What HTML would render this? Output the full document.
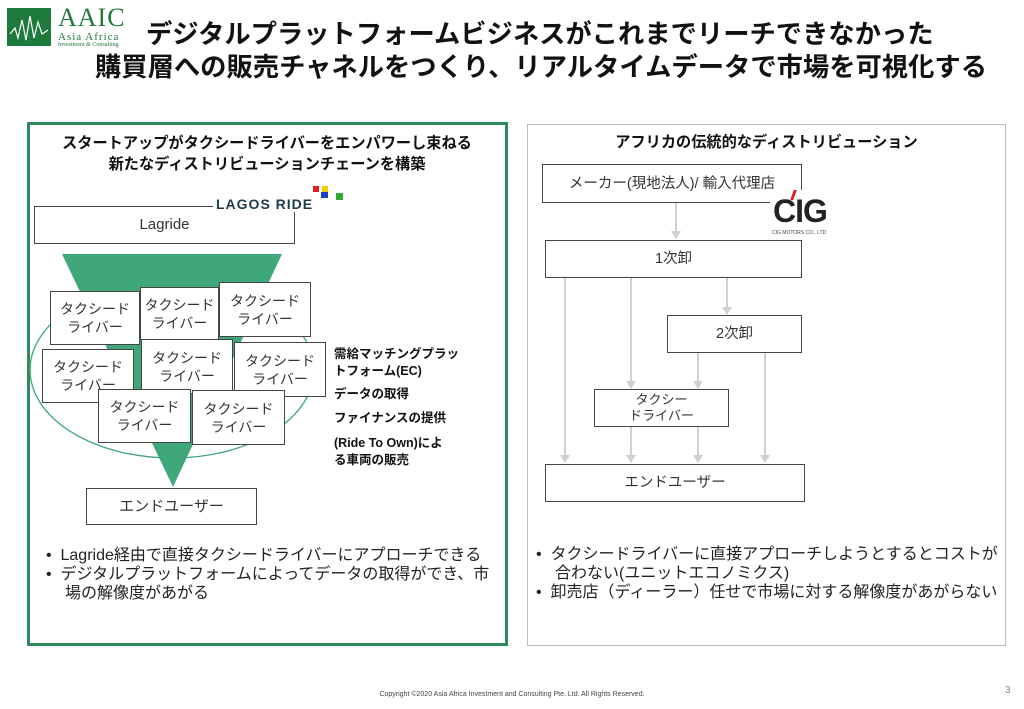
<!DOCTYPE html>
<html><head><meta charset="utf-8"><style>
*{margin:0;padding:0;box-sizing:border-box}
body{width:1024px;height:709px;background:#fff;position:relative;overflow:hidden;font-family:"Liberation Sans","Noto Sans CJK JP",sans-serif;color:#222}
.a{position:absolute}
.box{position:absolute;border:1.5px solid #444;background:#fff;display:flex;align-items:center;justify-content:center;text-align:center;font-size:14px;line-height:18px;color:#333}
.t{position:absolute;font-weight:bold;color:#111;white-space:nowrap}
.ln{position:absolute;width:2px;background:#d0d0d0}
.ln::after{content:"";position:absolute;left:-4px;bottom:-1px;border-left:5px solid transparent;border-right:5px solid transparent;border-top:8px solid #d0d0d0}
</style></head><body>
<!-- logo -->
<div class="a" style="left:7px;top:8px;width:44px;height:38px;background:#1e7a3c"></div>
<svg class="a" style="left:7px;top:8px" width="44" height="38"><polyline points="3,26 8,20 11,30 15,12 19,32 23,8 27,30 31,14 35,26 41,22" fill="none" stroke="#fff" stroke-width="1.2"/></svg>
<div class="a" style="left:58px;top:3px;font-family:'Liberation Serif',serif;font-size:26px;color:#1e7a3c;letter-spacing:1px">AAIC</div>
<div class="a" style="left:58px;top:31px;font-family:'Liberation Serif',serif;font-size:11px;color:#1e7a3c;letter-spacing:1px">Asia Africa</div>
<div class="a" style="left:58px;top:42px;font-family:'Liberation Serif',serif;font-size:6px;color:#1e7a3c">Investment &amp; Consulting</div>
<div class="t" style="left:146px;top:18px;font-size:26.3px;line-height:33px">デジタルプラットフォームビジネスがこれまでリーチできなかった</div>
<div class="t" style="left:95px;top:51px;font-size:26.3px;line-height:33px">購買層への販売チャネルをつくり、リアルタイムデータで市場を可視化する</div>

<!-- left panel -->
<div class="a" style="left:27px;top:122px;width:481px;height:524px;border:3px solid #2e8a5e"></div>
<div class="t" style="left:28px;top:133px;width:478px;text-align:center;font-size:15.2px;line-height:21px">スタートアップがタクシードライバーをエンパワーし束ねる<br>新たなディストリビューションチェーンを構築</div>
<div class="box" style="left:34px;top:206px;width:261px;height:38px;font-size:15px">Lagride</div>
<div class="a" style="left:213px;top:196px;background:#fff;padding:0 3px;font-weight:bold;font-size:14px;color:#1d3b4a;letter-spacing:1px">LAGOS RIDE</div>
<div class="a" style="left:313px;top:186px;width:6px;height:6px;background:#d22"></div>
<div class="a" style="left:322px;top:186px;width:6px;height:6px;background:#ec0"></div>
<div class="a" style="left:321px;top:192px;width:7px;height:6px;background:#1a3fbf"></div>
<div class="a" style="left:336px;top:193px;width:7px;height:7px;background:#3a3"></div>
<svg class="a" style="left:0;top:0" width="520" height="520">
<polygon points="62,254 282,254 173,487" fill="#3fa77a"/>
<ellipse cx="172" cy="370" rx="142" ry="88" fill="none" stroke="#3fa77a" stroke-width="1.3"/>
</svg>
<div class="box" style="left:50px;top:291px;width:90px;height:54px">タクシード<br>ライバー</div>
<div class="box" style="left:140px;top:287px;width:79px;height:53px">タクシード<br>ライバー</div>
<div class="box" style="left:219px;top:282px;width:92px;height:55px">タクシード<br>ライバー</div>
<div class="box" style="left:42px;top:349px;width:92px;height:54px">タクシード<br>ライバー</div>
<div class="box" style="left:141px;top:339px;width:92px;height:55px">タクシード<br>ライバー</div>
<div class="box" style="left:234px;top:342px;width:92px;height:55px">タクシード<br>ライバー</div>
<div class="box" style="left:98px;top:389px;width:93px;height:54px">タクシード<br>ライバー</div>
<div class="box" style="left:192px;top:390px;width:93px;height:55px">タクシード<br>ライバー</div>
<div class="t" style="left:334px;top:346px;font-size:12.5px;line-height:17px">需給マッチングプラッ<br>トフォーム(EC)</div>
<div class="t" style="left:334px;top:386px;font-size:12.5px;line-height:17px">データの取得</div>
<div class="t" style="left:334px;top:410px;font-size:12.5px;line-height:17px">ファイナンスの提供</div>
<div class="t" style="left:334px;top:435px;font-size:12.5px;line-height:17px">(Ride To Own)によ<br>る車両の販売</div>
<div class="box" style="left:86px;top:488px;width:171px;height:37px;font-size:15px">エンドユーザー</div>
<div class="a" style="left:46px;top:546px;font-size:16px;line-height:19px;color:#222;white-space:nowrap">
<div>•&nbsp;&nbsp;Lagride経由で直接タクシードライバーにアプローチできる</div>
<div>•&nbsp;&nbsp;デジタルプラットフォームによってデータの取得ができ、市</div>
<div style="padding-left:19px">場の解像度があがる</div></div>

<!-- right panel -->
<div class="a" style="left:527px;top:124px;width:479px;height:522px;border:1px solid #bbb"></div>
<div class="t" style="left:527px;top:133px;width:479px;text-align:center;font-size:15.2px;line-height:20px">アフリカの伝統的なディストリビューション</div>
<div class="ln" style="left:675px;top:202px;height:36px"></div>
<div class="ln" style="left:564px;top:278px;height:184px"></div>
<div class="ln" style="left:630px;top:278px;height:110px"></div>
<div class="ln" style="left:726px;top:278px;height:36px"></div>
<div class="ln" style="left:697px;top:352px;height:36px"></div>
<div class="ln" style="left:764px;top:352px;height:110px"></div>
<div class="ln" style="left:630px;top:426px;height:36px"></div>
<div class="ln" style="left:697px;top:426px;height:36px"></div>
<div class="box" style="left:542px;top:164px;width:260px;height:39px;font-size:14.5px">メーカー(現地法人)/ 輸入代理店</div>
<div class="a" style="left:770px;top:190px;width:80px;height:48px;background:#fff"></div>
<div class="a" style="left:773px;top:193px;font-size:32px;font-weight:bold;color:#222;letter-spacing:-1px">CIG</div>
<div class="a" style="left:792px;top:190px;width:3px;height:10px;background:#d22;transform:skewX(-20deg)"></div>
<div class="a" style="left:772px;top:230px;font-size:5px;color:#444">CIG MOTORS CO., LTD</div>
<div class="box" style="left:545px;top:240px;width:257px;height:38px;font-size:14.5px">1次卸</div>
<div class="box" style="left:667px;top:315px;width:135px;height:38px;font-size:14.5px">2次卸</div>
<div class="box" style="left:594px;top:389px;width:135px;height:38px;font-size:13px;line-height:16px">タクシー<br>ドライバー</div>
<div class="box" style="left:545px;top:464px;width:260px;height:38px;font-size:14.5px">エンドユーザー</div>
<div class="a" style="left:536px;top:545px;font-size:16px;line-height:19px;color:#222;white-space:nowrap">
<div>•&nbsp;&nbsp;タクシードライバーに直接アプローチしようとするとコストが</div>
<div style="padding-left:19px">合わない(ユニットエコノミクス)</div>
<div>•&nbsp;&nbsp;卸売店（ディーラー）任せで市場に対する解像度があがらない</div></div>

<div class="a" style="left:0;top:691px;width:1024px;text-align:center;font-size:7px;color:#444">Copyright ©2020 Asia Africa Investment and Consulting Pte. Ltd. All Rights Reserved.</div>
<div class="a" style="left:1005px;top:685px;font-size:10px;color:#888">3</div>
</body></html>
